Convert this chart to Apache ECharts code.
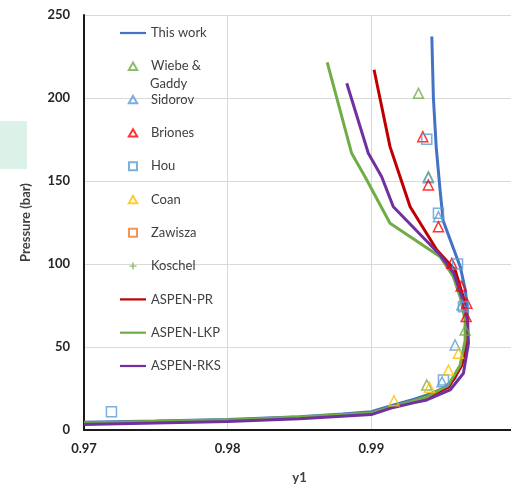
<!DOCTYPE html>
<html><head><meta charset="utf-8">
<script src="https://cdn.jsdelivr.net/npm/echarts@6/dist/echarts.min.js"></script>
<style>html,body{margin:0;padding:0;background:#fff}#c{width:511px;height:486px}</style>
</head><body><div id="c"></div>
<script>
const xTicks = [0.97, 0.98, 0.99, 1.00];
const yTicks = [0, 50, 100, 150, 200, 250];

const thisWork = [[0.9700,4.7],[0.9750,5.4],[0.9800,6.4],[0.9850,8.0],[0.9880,9.6],[0.9900,11.0],[0.9915,15.0],[0.9930,18.5],[0.9942,22.0],[0.9950,25.0],[0.9958,31.0],[0.9963,40.0],[0.99655,50.0],[0.99668,62.0],[0.99668,72.0],[0.99655,84.0],[0.9962,98.0],[0.9956,112.0],[0.9950,126.0],[0.99478,145.0],[0.99452,170.0],[0.99432,200.0],[0.99421,237.0]];
const wiebeGaddy = [[0.99328,202.8],[0.99397,152.6],[0.99653,60.2],[0.99386,27.1]];
const sidorov = [[0.99397,152.0],[0.99467,128.5],[0.9963,75.3],[0.99583,51.2],[0.99492,29.0]];
const briones = [[0.99358,176.7],[0.99397,147.6],[0.99467,122.5],[0.9956,100.4],[0.99625,86.7],[0.99665,76.3],[0.9966,68.3]];
const hou = [[0.99386,175.1],[0.99467,130.5],[0.996,100.0],[0.99641,74.3],[0.99502,30.1],[0.97191,11.0]];
const coan = [[0.99606,46.2],[0.99537,36.1],[0.99404,25.7],[0.99158,17.6]];
const zawisza = [];
const koschel = [];
const aspenPR = [[0.9700,3.9],[0.9800,5.7],[0.9850,7.4],[0.9900,10.0],[0.9915,14.0],[0.9930,17.3],[0.9942,21.0],[0.9954,26.0],[0.9963,39.0],[0.99667,54.0],[0.99663,66.0],[0.9964,80.0],[0.99583,96.4],[0.99456,108.4],[0.9927,134.5],[0.9920,152.6],[0.9913,170.7],[0.99019,217.0]];
const aspenLKP = [[0.9700,4.2],[0.9800,6.1],[0.9850,7.8],[0.9900,10.3],[0.9915,14.2],[0.9930,17.6],[0.99386,20.0],[0.99535,27.0],[0.99618,39.0],[0.99653,54.0],[0.99653,66.0],[0.99618,80.3],[0.99571,92.3],[0.99479,104.4],[0.9913,124.5],[0.98956,152.6],[0.98863,166.7],[0.98693,221.5]];
const aspenRKS = [[0.9700,3.3],[0.9800,5.1],[0.9850,6.8],[0.9900,9.3],[0.99153,13.6],[0.9930,16.5],[0.99386,18.1],[0.99548,24.1],[0.99641,34.2],[0.99676,52.2],[0.9967,66.3],[0.9963,80.3],[0.99574,94.4],[0.99479,105.4],[0.99153,134.5],[0.99072,152.6],[0.98979,166.7],[0.98829,208.9]];

const FONT = 'Lato';
const ICON_LINE = 'path://M0,0M26,9M0,3.4H26V5.6H0Z';
const ICON_TRI = 'path://M0,0M26,9M13,0.8L17.2,8.2H8.8Z';
const ICON_SQ = 'path://M0,0M26,9M9,0.5H17V8.5H9Z';
const ICON_PLUS = 'path://M0,0M26,9M12.3,1H13.7V3.8H16.5V5.2H13.7V8H12.3V5.2H9.5V3.8H12.3Z';

function lineS(name, data, color){
  return {name, type:'line', data, symbol:'none', showSymbol:false, z:2,
    lineStyle:{color, width:3}, itemStyle:{color}};
}
function scat(name, data, color, symbol, size){
  return {name, type:'scatter', data, symbol, symbolSize:size, z:5,
    itemStyle:{color:'rgba(255,255,255,0)', borderColor:color, borderWidth:1.5}};
}
const lineColors = {'This work':'#4472C4','ASPEN-PR':'#C00000','ASPEN-LKP':'#70AD47','ASPEN-RKS':'#7030A0'};
function lgLine(name){ return {name, icon:ICON_LINE, itemStyle:{color:lineColors[name], borderWidth:0}}; }

const chart = echarts.init(document.getElementById('c'));
chart.setOption({
  backgroundColor:'#fff',
  animation:false,
  graphic:[
    {type:'rect', left:0, top:121, shape:{width:27, height:48}, style:{fill:'#dcf1e8'}, silent:true},
    {type:'text', left:150, top:77, style:{text:'Gaddy', fill:'#404040', font:'13px Lato'}}
  ],
  grid:{left:84, right:-4, top:15, bottom:56, outerBoundsMode:'none', containLabel:false},
  xAxis:{type:'value', min:xTicks[0], max:xTicks[xTicks.length-1], interval:0.01,
    name:'y1', nameLocation:'middle', nameGap:41,
    nameTextStyle:{fontFamily:FONT, fontWeight:'bold', fontSize:13, color:'#404040'},
    axisLine:{show:true, lineStyle:{color:'#1a1a1a', width:2}},
    axisTick:{show:false},
    axisLabel:{fontFamily:FONT, fontWeight:'bold', fontSize:13, color:'#262626', margin:12,
      showMaxLabel:false, formatter:v=>v.toFixed(2)},
    splitLine:{show:true, lineStyle:{color:'#d9d9d9', width:1}}
  },
  yAxis:{type:'value', min:yTicks[0], max:yTicks[yTicks.length-1], interval:50,
    name:'Pressure (bar)', nameLocation:'middle', nameGap:52,
    nameTextStyle:{fontFamily:FONT, fontWeight:'bold', fontSize:13, color:'#404040'},
    axisLine:{show:true, lineStyle:{color:'#1a1a1a', width:2}},
    axisTick:{show:false},
    axisLabel:{fontFamily:FONT, fontWeight:'bold', fontSize:13, color:'#262626', margin:14},
    splitLine:{show:true, lineStyle:{color:'#d9d9d9', width:1}}
  },
  legend:{orient:'vertical', left:114, top:20, itemWidth:26, itemHeight:9, itemGap:17.3,
    textStyle:{fontFamily:FONT, fontSize:13, color:'#404040', lineHeight:16},
    formatter:n=> n==='Wiebe & Gaddy' ? 'Wiebe &' : n,
    data:[lgLine('This work'),
      {name:'Wiebe & Gaddy', icon:ICON_TRI},
      {name:'Sidorov', icon:ICON_TRI},
      {name:'Briones', icon:ICON_TRI},
      {name:'Hou', icon:ICON_SQ},
      {name:'Coan', icon:ICON_TRI},
      {name:'Zawisza', icon:ICON_SQ},
      {name:'Koschel', icon:ICON_PLUS},
      lgLine('ASPEN-PR'), lgLine('ASPEN-LKP'), lgLine('ASPEN-RKS')]},
  series:[
    lineS('This work', thisWork, '#4472C4'),
    scat('Wiebe & Gaddy', wiebeGaddy, '#70AD47', 'triangle', 10),
    scat('Sidorov', sidorov, '#5B9BD5', 'triangle', 10),
    scat('Briones', briones, '#FF0000', 'triangle', 10),
    scat('Hou', hou, '#5B9BD5', 'rect', 10),
    scat('Coan', coan, '#FFC000', 'triangle', 10),
    scat('Zawisza', zawisza, '#ED7D31', 'rect', 10),
    {name:'Koschel', type:'scatter', data:koschel, symbol:'path://M4,0H6V4H10V6H6V10H4V6H0V4H4Z', symbolSize:9, z:5, itemStyle:{color:'#70AD47'}},
    lineS('ASPEN-PR', aspenPR, '#C00000'),
    lineS('ASPEN-LKP', aspenLKP, '#70AD47'),
    lineS('ASPEN-RKS', aspenRKS, '#7030A0')
  ]
});
</script></body></html>
